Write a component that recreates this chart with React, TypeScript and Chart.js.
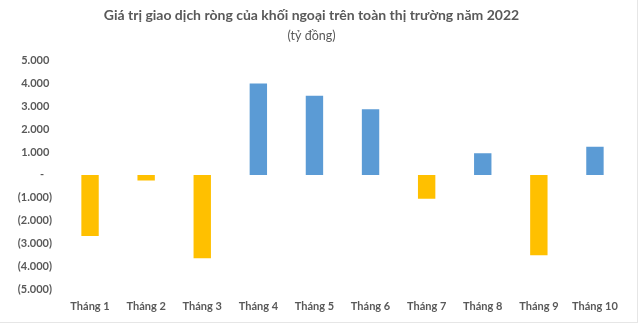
import React, { useEffect, useRef } from "react";
import { Chart, registerables } from "chart.js";

Chart.register(...registerables);

const categories = ["Tháng 1", "Tháng 2", "Tháng 3", "Tháng 4", "Tháng 5", "Tháng 6", "Tháng 7", "Tháng 8", "Tháng 9", "Tháng 10"];
const netValues = [-2680, -250, -3650, 4000, 3470, 2880, -1040, 950, -3520, 1230];
const titleText = "Giá trị giao dịch ròng của khối ngoại trên toàn thị trường năm 2022";
const subtitleText = "(tỷ đồng)";
const positiveColor = "#5B9BD5";
const negativeColor = "#FFC000";
const textColor = "#595959";
const fontFamily = "Lato, 'Noto Sans', sans-serif";

function formatTick(v: number): string {
  if (v === 0) return "-   ";
  const s = Math.abs(v).toLocaleString("de-DE");
  return v < 0 ? "(" + s + ")" : s + " ";
}

export default function App() {
  const ref = useRef<HTMLCanvasElement | null>(null);
  useEffect(() => {
    document.body.style.margin = "0";
    const ctx = ref.current;
    if (!ctx) return;
    const chart = new Chart(ctx, {
      type: "bar",
      data: {
        labels: categories,
        datasets: [
          {
            data: netValues,
            backgroundColor: netValues.map((v) => (v < 0 ? negativeColor : positiveColor)),
            borderWidth: 0,
            categoryPercentage: 1,
            barPercentage: 0.31,
          },
        ],
      },
      options: {
        responsive: false,
        animation: false,
        layout: { padding: { top: 0, right: 17, bottom: 0, left: 0 } },
        plugins: {
          legend: { display: false },
          tooltip: { enabled: false },
          title: {
            display: true,
            text: titleText,
            color: textColor,
            font: { family: fontFamily, size: 14, weight: "bold", lineHeight: 1.2 },
            padding: { top: 7, bottom: 0 },
          },
          subtitle: {
            display: true,
            text: subtitleText,
            color: textColor,
            font: { family: fontFamily, size: 12.5, weight: "normal", lineHeight: 1.2 },
            padding: { top: 5, bottom: 17 },
          },
        },
        scales: {
          x: {
            grid: { display: false, drawTicks: false },
            border: { display: false },
            ticks: {
              color: textColor,
              font: { family: fontFamily, size: 11, weight: "bold" },
              padding: 11,
              maxRotation: 0,
            },
            afterFit: (scale: any) => {
              scale.height = 36;
            },
          },
          y: {
            min: -5000,
            max: 5000,
            grid: { display: false, drawTicks: false },
            border: { display: false },
            ticks: {
              stepSize: 1000,
              color: textColor,
              font: { family: fontFamily, size: 11, weight: "bold" },
              padding: 10,
              callback: (v: any) => formatTick(Number(v)),
            },
            afterFit: (scale: any) => {
              scale.width = 62;
            },
          },
        },
      },
    });
    return () => chart.destroy();
  }, []);
  return (
    <div style={{ width: 640, height: 325, position: "relative" }}>
      <canvas ref={ref} width={640} height={325} style={{ display: "block" }} />
      <div style={{ position: "absolute", left: 0, top: 0, width: 638, height: 323, boxSizing: "border-box", borderRight: "1px solid #E6E6E6", borderBottom: "1px solid #E6E6E6", pointerEvents: "none" }} />
    </div>
  );
}
